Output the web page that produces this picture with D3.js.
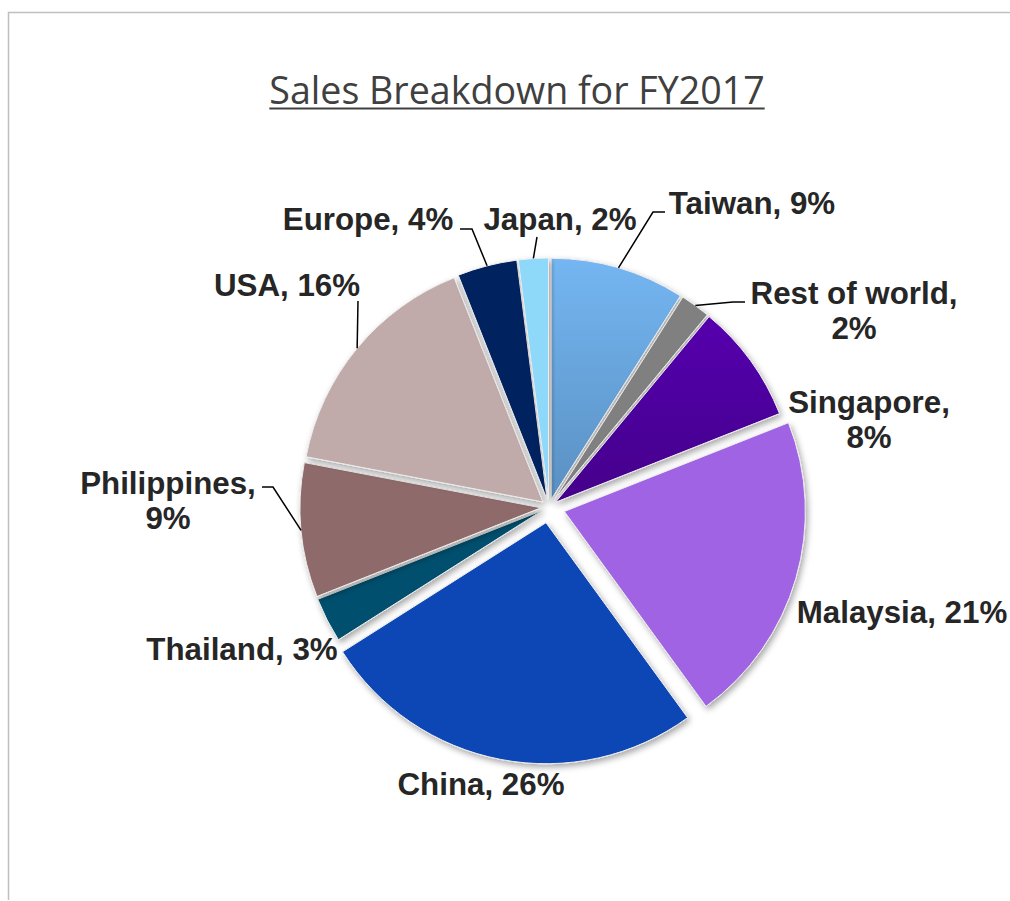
<!DOCTYPE html>
<html>
<head>
<meta charset="utf-8">
<script src="https://cdn.jsdelivr.net/npm/d3@7"></script>
<style>
  html, body { margin: 0; padding: 0; background: #fff; }
  svg { display: block; }
</style>
</head>
<body>
<svg id="chart" width="1010" height="901"></svg>
<script>
// Sales share by region, clockwise from 12 o'clock
const regions = ["Taiwan", "Rest of world", "Singapore", "Malaysia", "China",
                 "Thailand", "Philippines", "USA", "Europe", "Japan"];
const shares = [9, 2, 8, 21, 26, 3, 9, 16, 4, 2];
const sliceColors = ["#6CAEEA", "#808080", "#4E00A3", "#9F63E3", "#0D46B6",
                     "#034F6E", "#8F6B6B", "#C0ABAA", "#00215F", "#8ED8FA"];
const titleText = "Sales Breakdown for FY2017";

// Label text lines for each slice
const labelLines = {
  "Taiwan": ["Taiwan, 9%"],
  "Rest of world": ["Rest of world,", "2%"],
  "Singapore": ["Singapore,", "8%"],
  "Malaysia": ["Malaysia, 21%"],
  "China": ["China, 26%"],
  "Thailand": ["Thailand, 3%"],
  "Philippines": ["Philippines,", "9%"],
  "USA": ["USA, 16%"],
  "Europe": ["Europe, 4%"],
  "Japan": ["Japan, 2%"]
};

// Label placement (centre x, first baseline y) and leader-line elbows
const labelLayout = {
  "Taiwan":        { x: 752, y: 214, leader: [[653, 212], [665, 212]] },
  "Rest of world": { x: 854, y: 304, leader: [[733, 302], [745, 302]] },
  "Singapore":     { x: 869, y: 413 },
  "Malaysia":      { x: 902, y: 623 },
  "China":         { x: 481, y: 795 },
  "Thailand":      { x: 242, y: 660 },
  "Philippines":   { x: 168, y: 494, leader: [[273, 487], [262, 487]] },
  "USA":           { x: 287, y: 296, leader: [[358, 301]] },
  "Europe":        { x: 368, y: 230, leader: [[472, 229], [460, 229]] },
  "Japan":         { x: 560, y: 230, leader: [[537, 237]] }
};

// Slices pulled further out from the centre
const explodeBig = { "Malaysia": 16, "China": 16 };
const explodeDefault = 8;

const svg = d3.select("#chart");
const cx = 549, cy = 507, R = 241;

// Frame lines (top and left)
svg.append("path")
  .attr("d", "M8.5,900 L8.5,12.5 L1010,12.5")
  .attr("fill", "none")
  .attr("stroke", "#BFBFBF")
  .attr("stroke-width", 1.5);

const defs = svg.append("defs");
const shadow = defs.append("filter")
  .attr("id", "sliceShadow")
  .attr("x", "-20%").attr("y", "-20%")
  .attr("width", "140%").attr("height", "140%");
shadow.append("feDropShadow")
  .attr("dx", 2).attr("dy", 3)
  .attr("stdDeviation", 3)
  .attr("flood-color", "#000")
  .attr("flood-opacity", 0.35);

// Subtle vertical shading for Taiwan and Singapore
const gradSpecs = [
  { id: "gradTaiwan", top: "#74B6F2", bottom: "#5A90C2" },
  { id: "gradSingapore", top: "#5503AE", bottom: "#44008A" }
];
gradSpecs.forEach(g => {
  const lg = defs.append("linearGradient")
    .attr("id", g.id).attr("x1", 0).attr("y1", 0).attr("x2", 0).attr("y2", 1);
  lg.append("stop").attr("offset", "0%").attr("stop-color", g.top);
  lg.append("stop").attr("offset", "100%").attr("stop-color", g.bottom);
});
const fillFor = (name, i) => {
  if (name === "Taiwan") return "url(#gradTaiwan)";
  if (name === "Singapore") return "url(#gradSingapore)";
  return sliceColors[i];
};

// Title with underline
const title = svg.append("text")
  .attr("x", 517).attr("y", 104)
  .attr("text-anchor", "middle")
  .attr("font-family", "'Open Sans', 'Noto Sans', sans-serif")
  .attr("font-size", 37.6)
  .attr("fill", "#404040")
  .text(titleText);
const tw = title.node().getComputedTextLength();
svg.append("line")
  .attr("x1", 517 - tw / 2).attr("x2", 517 + tw / 2)
  .attr("y1", 108.5).attr("y2", 108.5)
  .attr("stroke", "#404040").attr("stroke-width", 2);

const data = regions.map((r, i) => ({ region: r, share: shares[i], idx: i }));
const pie = d3.pie().sort(null).value(d => d.share);
const arcs = pie(data);
const arc = d3.arc().innerRadius(0).outerRadius(R);

const offsetOf = d => explodeBig[d.data.region] || explodeDefault;
const midAngle = d => (d.startAngle + d.endAngle) / 2;
const shift = d => {
  const a = midAngle(d), o = offsetOf(d);
  return [Math.sin(a) * o, -Math.cos(a) * o];
};

const g = svg.append("g").attr("transform", `translate(${cx},${cy})`);

g.selectAll("path.slice")
  .data(arcs)
  .join("path")
  .attr("class", "slice")
  .attr("transform", d => `translate(${shift(d)[0]},${shift(d)[1]})`)
  .attr("d", arc)
  .attr("fill", d => fillFor(d.data.region, d.data.idx))
  .attr("stroke", "#EDEDED")
  .attr("stroke-width", 1)
  .attr("filter", "url(#sliceShadow)");

// Leader lines from each slice's outer edge to its label
const leaderGen = d3.line();
arcs.forEach(d => {
  const lay = labelLayout[d.data.region];
  if (!lay.leader) return;
  const a = midAngle(d), s = shift(d);
  const start = [cx + s[0] + Math.sin(a) * R, cy + s[1] - Math.cos(a) * R];
  svg.append("path")
    .attr("d", leaderGen([start, ...lay.leader]))
    .attr("fill", "none")
    .attr("stroke", "#000")
    .attr("stroke-width", 1.5);
});

// Data labels
arcs.forEach(d => {
  const lay = labelLayout[d.data.region];
  const t = svg.append("text")
    .attr("text-anchor", "middle")
    .attr("font-family", "'Liberation Sans', Arial, sans-serif")
    .attr("font-weight", "bold")
    .attr("font-size", 31.3)
    .attr("fill", "#262626");
  labelLines[d.data.region].forEach((line, k) => {
    t.append("tspan")
      .attr("x", lay.x)
      .attr("y", lay.y + k * 35)
      .text(line);
  });
});
</script>
</body>
</html>
